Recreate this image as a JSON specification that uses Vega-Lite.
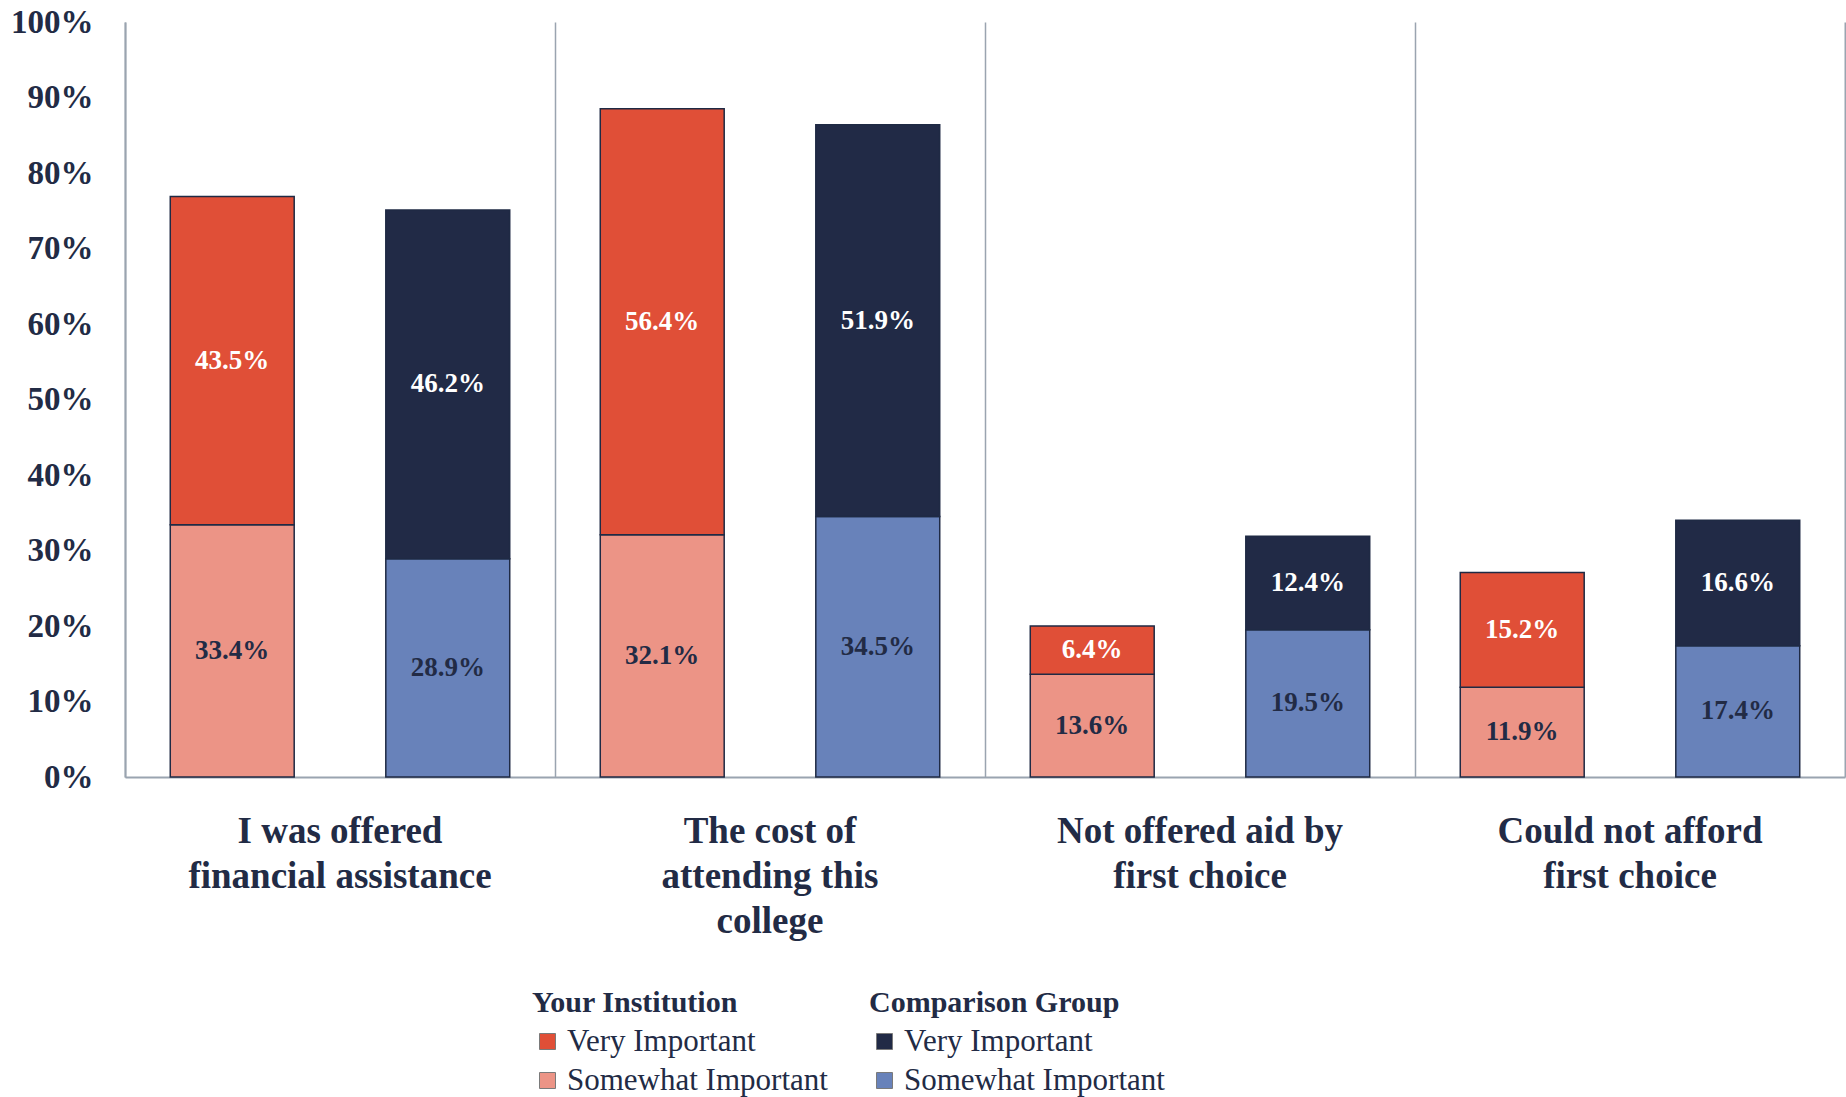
{
  "$schema": "https://vega.github.io/schema/vega-lite/v6.json",
  "width": 1720,
  "height": 755,
  "autosize": {"type": "none"},
  "padding": {"left": 125, "top": 22, "right": 1, "bottom": 320},
  "background": "white",
  "config": {"view": {"stroke": null}, "font": "Liberation Serif"},
  "data": {
    "values": [
      {"category": "I was offered financial assistance", "group": "Your Institution", "importance": "Somewhat Important", "value": 0.334},
      {"category": "I was offered financial assistance", "group": "Your Institution", "importance": "Very Important", "value": 0.435},
      {"category": "I was offered financial assistance", "group": "Comparison Group", "importance": "Somewhat Important", "value": 0.289},
      {"category": "I was offered financial assistance", "group": "Comparison Group", "importance": "Very Important", "value": 0.462},
      {"category": "The cost of attending this college", "group": "Your Institution", "importance": "Somewhat Important", "value": 0.321},
      {"category": "The cost of attending this college", "group": "Your Institution", "importance": "Very Important", "value": 0.564},
      {"category": "The cost of attending this college", "group": "Comparison Group", "importance": "Somewhat Important", "value": 0.345},
      {"category": "The cost of attending this college", "group": "Comparison Group", "importance": "Very Important", "value": 0.519},
      {"category": "Not offered aid by first choice", "group": "Your Institution", "importance": "Somewhat Important", "value": 0.136},
      {"category": "Not offered aid by first choice", "group": "Your Institution", "importance": "Very Important", "value": 0.064},
      {"category": "Not offered aid by first choice", "group": "Comparison Group", "importance": "Somewhat Important", "value": 0.195},
      {"category": "Not offered aid by first choice", "group": "Comparison Group", "importance": "Very Important", "value": 0.124},
      {"category": "Could not afford first choice", "group": "Your Institution", "importance": "Somewhat Important", "value": 0.119},
      {"category": "Could not afford first choice", "group": "Your Institution", "importance": "Very Important", "value": 0.152},
      {"category": "Could not afford first choice", "group": "Comparison Group", "importance": "Somewhat Important", "value": 0.174},
      {"category": "Could not afford first choice", "group": "Comparison Group", "importance": "Very Important", "value": 0.166}
    ]
  },
  "layer": [
    {
      "transform": [{"filter": "datum.group == 'Your Institution'"}],
      "mark": {"type": "bar", "stroke": "#1f2a44", "strokeWidth": 1.5},
      "encoding": {
        "x": {
          "field": "category", "type": "nominal",
          "sort": ["I was offered financial assistance", "The cost of attending this college", "Not offered aid by first choice", "Could not afford first choice"],
          "scale": {"paddingInner": 0, "paddingOuter": 0},
          "axis": {
            "title": null, "orient": "bottom", "ticks": false, "grid": false,
            "domain": true, "domainColor": "#9aa4b0", "domainWidth": 2,
            "labelAngle": 0, "labelFont": "Liberation Serif", "labelFontSize": 37, "labelFontWeight": "bold",
            "labelColor": "#222b45", "labelPadding": 36, "labelLineHeight": 45, "labelBaseline": "top", "labelLimit": 600,
            "labelExpr": "datum.value == 'I was offered financial assistance' ? ['I was offered', 'financial assistance'] : datum.value == 'The cost of attending this college' ? ['The cost of', 'attending this', 'college'] : datum.value == 'Not offered aid by first choice' ? ['Not offered aid by', 'first choice'] : ['Could not afford', 'first choice']"
          }
        },
        "xOffset": {
          "field": "group", "type": "nominal",
          "scale": {"domain": ["Your Institution", "Comparison Group"], "paddingInner": 0.425, "paddingOuter": 0.21}
        },
        "y": {
          "field": "value", "type": "quantitative", "stack": "zero",
          "scale": {"domain": [0, 1]},
          "axis": {
            "title": null, "orient": "left", "values": [0, 0.1, 0.2, 0.3, 0.4, 0.5, 0.6, 0.7, 0.8, 0.9, 1],
            "format": ".0%", "grid": false, "ticks": false,
            "domain": true, "domainColor": "#9aa4b0", "domainWidth": 2,
            "labelFont": "Liberation Serif", "labelFontSize": 33, "labelFontWeight": "bold",
            "labelColor": "#222b45", "labelPadding": 32
          }
        },
        "fill": {
          "field": "importance", "type": "nominal",
          "scale": {"domain": ["Very Important", "Somewhat Important"], "range": ["#E04F37", "#EC9486"]},
          "legend": {
            "title": "Your Institution", "orient": "none", "legendX": 407, "legendY": 966,
            "titleFont": "Liberation Serif", "titleFontSize": 30, "titleFontWeight": "bold", "titleColor": "#222b45", "titlePadding": 8, "titleLimit": 600,
            "labelFont": "Liberation Serif", "labelFontSize": 31, "labelColor": "#222b45", "labelOffset": 4, "labelLimit": 600,
            "symbolType": "square", "symbolSize": 256, "symbolStrokeColor": "#7a7a7a", "symbolStrokeWidth": 1, "rowPadding": 7
          }
        },
        "order": {"field": "importance", "sort": "ascending"}
      }
    },
    {
      "transform": [{"filter": "datum.group == 'Comparison Group'"}],
      "mark": {"type": "bar", "stroke": "#1f2a44", "strokeWidth": 1.5},
      "encoding": {
        "x": {
          "field": "category", "type": "nominal",
          "sort": ["I was offered financial assistance", "The cost of attending this college", "Not offered aid by first choice", "Could not afford first choice"],
          "scale": {"paddingInner": 0, "paddingOuter": 0},
          "axis": null
        },
        "xOffset": {
          "field": "group", "type": "nominal",
          "scale": {"domain": ["Your Institution", "Comparison Group"], "paddingInner": 0.425, "paddingOuter": 0.21}
        },
        "y": {"field": "value", "type": "quantitative", "stack": "zero", "scale": {"domain": [0, 1]}, "axis": null},
        "fill": {
          "field": "importance", "type": "nominal",
          "scale": {"domain": ["Very Important", "Somewhat Important"], "range": ["#212A46", "#6882BA"]},
          "legend": {
            "title": "Comparison Group", "orient": "none", "legendX": 744, "legendY": 966,
            "titleFont": "Liberation Serif", "titleFontSize": 30, "titleFontWeight": "bold", "titleColor": "#222b45", "titlePadding": 8, "titleLimit": 600,
            "labelFont": "Liberation Serif", "labelFontSize": 31, "labelColor": "#222b45", "labelOffset": 4, "labelLimit": 600,
            "symbolType": "square", "symbolSize": 256, "symbolStrokeColor": "#7a7a7a", "symbolStrokeWidth": 1, "rowPadding": 7
          }
        },
        "order": {"field": "importance", "sort": "ascending"}
      }
    },
    {
      "mark": {"type": "text", "font": "Liberation Serif", "fontSize": 27, "fontWeight": "bold", "baseline": "middle", "align": "center"},
      "encoding": {
        "x": {
          "field": "category", "type": "nominal",
          "sort": ["I was offered financial assistance", "The cost of attending this college", "Not offered aid by first choice", "Could not afford first choice"],
          "scale": {"paddingInner": 0, "paddingOuter": 0},
          "axis": {"orient": "top", "title": null, "labels": false, "ticks": false, "domain": false, "grid": true, "gridColor": "#9aa4b0", "gridWidth": 1.5, "bandPosition": 0}
        },
        "xOffset": {
          "field": "group", "type": "nominal",
          "scale": {"domain": ["Your Institution", "Comparison Group"], "paddingInner": 0.425, "paddingOuter": 0.21}
        },
        "y": {
          "field": "value", "type": "quantitative", "stack": "zero", "bandPosition": 0.5,
          "scale": {"domain": [0, 1]},
          "axis": {"orient": "right", "title": null, "labels": false, "ticks": false, "grid": false, "domain": true, "domainColor": "#9aa4b0", "domainWidth": 2}
        },
        "detail": {"field": "importance"},
        "order": {"field": "importance", "sort": "ascending"},
        "text": {"field": "value", "type": "quantitative", "format": ".1%"},
        "color": {"condition": {"test": "datum.importance == 'Very Important'", "value": "#ffffff"}, "value": "#222b45"}
      }
    }
  ],
  "resolve": {"scale": {"fill": "independent"}, "axis": {"x": "independent", "y": "independent"}}
}
